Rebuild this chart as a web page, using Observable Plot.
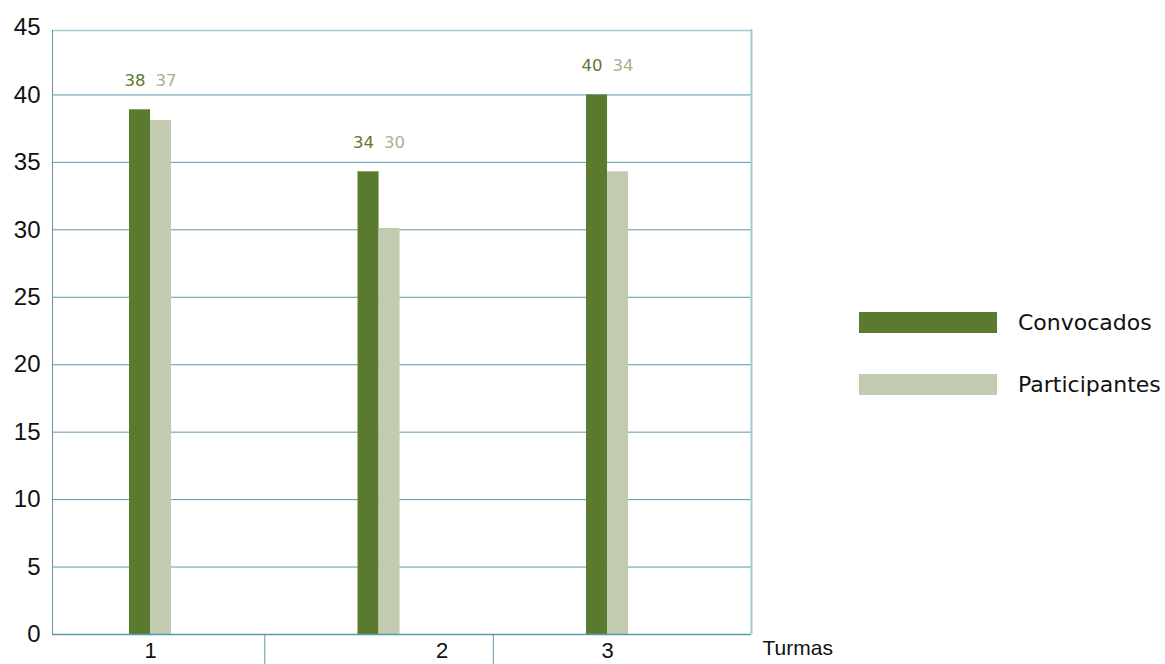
<!DOCTYPE html>
<html>
<head>
<meta charset="utf-8">
<script src="https://cdn.jsdelivr.net/npm/d3@7"></script>
<script src="https://cdn.jsdelivr.net/npm/@observablehq/plot@0.6"></script>
<style>
  html, body { margin: 0; padding: 0; background: #fff; }
  #wrap { position: relative; width: 1165px; height: 664px; overflow: hidden; }
  #legend { position: absolute; left: 859px; top: 312px; font-family: "DejaVu Sans", sans-serif; font-size: 22px; color: #111; }
  .item { display: flex; align-items: center; height: 21px; margin-bottom: 41px; }
  .sw { width: 138px; height: 21px; margin-right: 21px; }
</style>
</head>
<body>
<div id="wrap"><div id="legend"></div></div>
<script>
const groups = [1, 2, 3];
const tickLabels = ["1", "2", "3"];
const seriesNames = ["Convocados", "Participantes"];
const convocados = [38.9, 34.3, 40];
const participantes = [38.1, 30.1, 34.3];
const convocadosLabels = ["38", "34", "40"];
const participantesLabels = ["37", "30", "34"];
const yTicks = [0, 5, 10, 15, 20, 25, 30, 35, 40, 45];

const cGreen = "#5a7a30";
const cLight = "#c2cab0";
const grid = "#5b97a8";
const gridLight = "#a3c9d1";
const xDomain = [0.571, 3.63];
const half = 0.092;
const idx = groups.map((g, i) => i);
const seps = groups.slice(1).map((g, i) => (g + groups[i]) / 2);

const chart = Plot.plot({
  width: 1165,
  height: 664,
  marginLeft: 52,
  marginRight: 414,
  marginTop: 27,
  marginBottom: 30,
  x: {domain: xDomain},
  y: {domain: [0, 45]},
  style: {background: "transparent", fontFamily: "Liberation Sans, sans-serif"},
  marks: [
    Plot.ruleY(yTicks.filter(t => t > 0 && t < 45), {stroke: grid, strokeWidth: 1}),
    Plot.ruleY([45], {stroke: gridLight, strokeWidth: 1.5, dy: 3}),
    Plot.ruleX([xDomain[0]], {stroke: grid, insetTop: 3}),
    Plot.ruleX([xDomain[1]], {stroke: gridLight, strokeWidth: 2, insetTop: 2}),
    Plot.rectY(idx, {x1: i => groups[i] - half, x2: i => groups[i], y1: 0, y2: i => convocados[i], fill: cGreen}),
    Plot.rectY(idx, {x1: i => groups[i], x2: i => groups[i] + half, y1: 0, y2: i => participantes[i], fill: cLight}),
    Plot.ruleY([0], {stroke: grid, strokeWidth: 1.5}),
    Plot.axisY(yTicks, {tickSize: 0, tickPadding: 12, fontSize: 24, fill: "#111", label: null}),
    Plot.axisX(seps, {tickSize: 30, tickFormat: () => "", stroke: grid, label: null}),
    Plot.axisX([groups[0], groups[2]], {tickSize: 0, tickPadding: 8, fontSize: 22, fill: "#111", label: null, tickFormat: d => tickLabels[groups.indexOf(d)]}),
    Plot.axisX([groups[1]], {tickSize: 0, tickPadding: 8, fontSize: 22, fill: "#111", label: null, dx: 63, tickFormat: d => tickLabels[groups.indexOf(d)]}),
    Plot.text(idx, {x: i => groups[i], y: i => convocados[i], text: i => convocadosLabels[i], textAnchor: "end", dx: -5, dy: -29, fill: cGreen, fontSize: 16.5, fontFamily: "DejaVu Sans"}),
    Plot.text(idx, {x: i => groups[i], y: i => convocados[i], text: i => participantesLabels[i], textAnchor: "start", dx: 5, dy: -29, fill: "#a6b28d", fontSize: 16.5, fontFamily: "DejaVu Sans"}),
    Plot.text(["Turmas"], {x: xDomain[1], y: 0, text: d => d, textAnchor: "start", dx: 11, dy: 14, fontSize: 21, fill: "#111"})
  ]
});
const wrap = document.getElementById("wrap");
wrap.insertBefore(chart, wrap.firstChild);

const legend = document.getElementById("legend");
[cGreen, cLight].forEach((c, i) => {
  const it = document.createElement("div");
  it.className = "item";
  it.innerHTML = `<div class="sw" style="background:${c}"></div><span>${seriesNames[i]}</span>`;
  legend.appendChild(it);
});
</script>
</body>
</html>
